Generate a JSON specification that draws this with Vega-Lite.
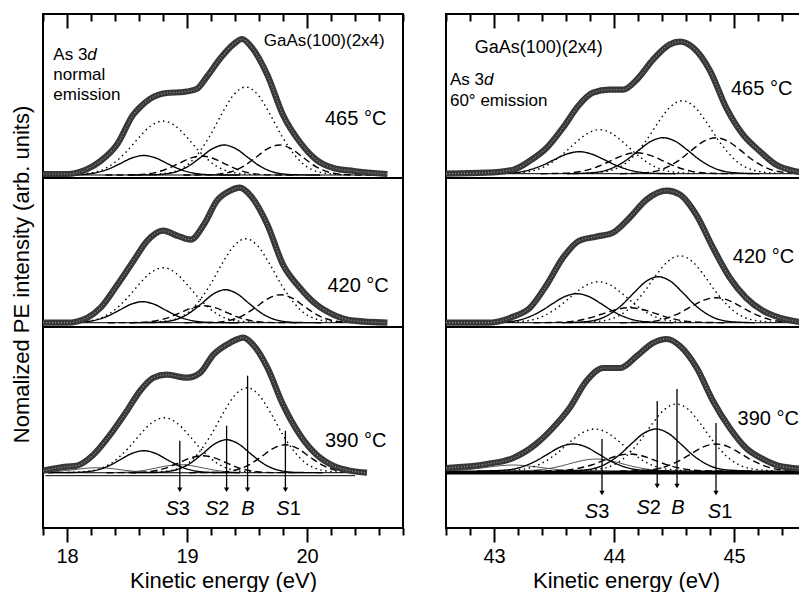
{
"$schema":"https://vega.github.io/schema/vega-lite/v6.json",
"background":"white",
"padding":{"left":8,"top":12,"right":0,"bottom":0},
"config":{"view":{"stroke":"black","strokeWidth":2},"font":"Liberation Sans","axis":{"labelFont":"Liberation Sans","titleFont":"Liberation Sans"},"text":{"font":"Liberation Sans"}},
"datasets":{
"cv":[
{"p":"L","t":465,"c":"tot","s":"tot","x":[17.8,18.0,18.17,18.28,18.42,18.55,18.61,18.69,18.83,18.97,19.08,19.17,19.28,19.39,19.46,19.53,19.67,19.8,19.94,20.08,20.22,20.39,20.67],"y":[0.01,0.01,0.06,0.14,0.31,0.6,0.68,0.76,0.82,0.83,0.86,0.99,1.17,1.31,1.36,1.29,1.0,0.6,0.33,0.15,0.07,0.04,0.01]},
{"p":"L","t":465,"c":"B5","s":"dot","x":[18.69,18.89,19.04,19.19,19.29,19.39,19.49,19.59,19.69,19.79,19.94,20.09,20.29],"y":[0.003,0.033,0.141,0.39,0.612,0.803,0.88,0.803,0.612,0.39,0.141,0.033,0.003]},
{"p":"L","t":465,"c":"B3","s":"dot","x":[18.0,18.2,18.35,18.5,18.6,18.7,18.8,18.9,19.0,19.1,19.25,19.4,19.6],"y":[0.002,0.021,0.086,0.239,0.376,0.493,0.54,0.493,0.376,0.239,0.086,0.021,0.002]},
{"p":"L","t":465,"c":"S2a","s":"sol","x":[18.51,18.71,18.86,19.01,19.11,19.21,19.31,19.41,19.51,19.61,19.76,19.91,20.11],"y":[0,0.002,0.018,0.087,0.173,0.261,0.3,0.261,0.173,0.087,0.018,0.002,0]},
{"p":"L","t":465,"c":"S2b","s":"sol","x":[17.84,18.04,18.19,18.34,18.44,18.54,18.64,18.74,18.84,18.94,19.09,19.24,19.44],"y":[0,0.001,0.012,0.057,0.112,0.17,0.195,0.17,0.112,0.057,0.012,0.001,0]},
{"p":"L","t":465,"c":"S1a","s":"dash","x":[18.97,19.17,19.32,19.47,19.57,19.67,19.77,19.87,19.97,20.07,20.22,20.37,20.57],"y":[0,0.002,0.018,0.087,0.173,0.261,0.3,0.261,0.173,0.087,0.018,0.002,0]},
{"p":"L","t":465,"c":"S1b","s":"dash","x":[18.32,18.52,18.67,18.82,18.92,19.02,19.12,19.22,19.32,19.42,19.57,19.72,19.92],"y":[0,0.001,0.011,0.055,0.109,0.165,0.19,0.165,0.109,0.055,0.011,0.001,0]},
{"p":"L","t":420,"c":"tot","s":"tot","x":[17.8,18.0,18.17,18.28,18.42,18.555,18.67,18.8,18.92,19.03,19.14,19.25,19.36,19.44,19.53,19.67,19.8,19.94,20.08,20.22,20.39,20.67],"y":[0,0,0.05,0.15,0.38,0.62,0.82,0.92,0.87,0.83,0.98,1.22,1.32,1.35,1.27,0.98,0.58,0.35,0.18,0.08,0.02,0]},
{"p":"L","t":420,"c":"B5","s":"dot","x":[18.69,18.89,19.04,19.19,19.29,19.39,19.49,19.59,19.69,19.79,19.94,20.09,20.29],"y":[0.003,0.032,0.134,0.372,0.585,0.767,0.84,0.767,0.585,0.372,0.134,0.032,0.003]},
{"p":"L","t":420,"c":"B3","s":"dot","x":[18.0,18.2,18.35,18.5,18.6,18.7,18.8,18.9,19.0,19.1,19.25,19.4,19.6],"y":[0.002,0.021,0.088,0.244,0.383,0.502,0.55,0.502,0.383,0.244,0.088,0.021,0.002]},
{"p":"L","t":420,"c":"S2a","s":"sol","x":[18.52,18.72,18.87,19.02,19.12,19.22,19.32,19.42,19.52,19.62,19.77,19.92,20.12],"y":[0,0.002,0.02,0.096,0.19,0.287,0.33,0.287,0.19,0.096,0.02,0.002,0]},
{"p":"L","t":420,"c":"S2b","s":"sol","x":[17.83,18.03,18.18,18.33,18.43,18.53,18.63,18.73,18.83,18.93,19.08,19.23,19.43],"y":[0,0.001,0.013,0.061,0.121,0.183,0.21,0.183,0.121,0.061,0.013,0.001,0]},
{"p":"L","t":420,"c":"S1a","s":"dash","x":[18.98,19.18,19.33,19.48,19.58,19.68,19.78,19.88,19.98,20.08,20.23,20.38,20.58],"y":[0,0.002,0.017,0.081,0.161,0.244,0.28,0.244,0.161,0.081,0.017,0.002,0]},
{"p":"L","t":420,"c":"S1b","s":"dash","x":[18.34,18.54,18.69,18.84,18.94,19.04,19.14,19.24,19.34,19.44,19.59,19.74,19.94],"y":[0,0.001,0.01,0.049,0.098,0.148,0.17,0.148,0.098,0.049,0.01,0.001,0]},
{"p":"L","t":390,"c":"tot","s":"tot","x":[17.8,18.0,18.08,18.22,18.36,18.5,18.61,18.72,18.83,19.0,19.11,19.22,19.36,19.47,19.55,19.67,19.8,19.94,20.08,20.22,20.36,20.5],"y":[0.02,0.06,0.07,0.18,0.38,0.62,0.82,0.95,0.98,0.95,1.0,1.18,1.3,1.35,1.28,1.05,0.68,0.38,0.18,0.07,0.02,0]},
{"p":"L","t":390,"c":"B5","s":"dot","x":[18.7,18.9,19.05,19.2,19.3,19.4,19.5,19.6,19.7,19.8,19.95,20.1,20.3],"y":[0.003,0.032,0.136,0.377,0.592,0.776,0.85,0.776,0.592,0.377,0.136,0.032,0.003]},
{"p":"L","t":390,"c":"B3","s":"dot","x":[18.01,18.21,18.36,18.51,18.61,18.71,18.81,18.91,19.01,19.11,19.26,19.41,19.61],"y":[0.002,0.021,0.088,0.244,0.383,0.502,0.55,0.502,0.383,0.244,0.088,0.021,0.002]},
{"p":"L","t":390,"c":"S2a","s":"sol","x":[18.53,18.73,18.88,19.03,19.13,19.23,19.33,19.43,19.53,19.63,19.78,19.93,20.13],"y":[0,0.002,0.02,0.096,0.19,0.287,0.33,0.287,0.19,0.096,0.02,0.002,0]},
{"p":"L","t":390,"c":"S2b","s":"sol","x":[17.84,18.04,18.19,18.34,18.44,18.54,18.64,18.74,18.84,18.94,19.09,19.24,19.44],"y":[0,0.002,0.013,0.064,0.127,0.192,0.22,0.192,0.127,0.064,0.013,0.002,0]},
{"p":"L","t":390,"c":"S1a","s":"dash","x":[19.02,19.22,19.37,19.52,19.62,19.72,19.82,19.92,20.02,20.12,20.27,20.42],"y":[0,0.002,0.017,0.081,0.161,0.244,0.28,0.244,0.161,0.081,0.017,0.002]},
{"p":"L","t":390,"c":"S1b","s":"dash","x":[18.33,18.53,18.68,18.83,18.93,19.03,19.13,19.23,19.33,19.43,19.58,19.73,19.93],"y":[0,0.001,0.01,0.049,0.098,0.148,0.17,0.148,0.098,0.049,0.01,0.001,0]},
{"p":"L","t":390,"c":"S3a","s":"thin","x":[18.14,18.34,18.49,18.64,18.74,18.84,18.94,19.04,19.14,19.24,19.39,19.54,19.74],"y":[0,0.001,0.005,0.023,0.046,0.07,0.08,0.07,0.046,0.023,0.005,0.001,0]},
{"p":"L","t":390,"c":"S3b","s":"thin","x":[17.8,17.95,18.05,18.15,18.25,18.35,18.45,18.55,18.7,18.85,19.05],"y":[0.003,0.015,0.029,0.044,0.05,0.044,0.029,0.015,0.003,0,0]},
{"p":"R","t":465,"c":"tot","s":"tot","x":[42.6,42.94,43.16,43.3,43.44,43.575,43.71,43.825,43.96,44.075,44.19,44.325,44.46,44.55,44.66,44.8,44.935,45.075,45.21,45.35,45.49,45.6],"y":[0,0.01,0.04,0.13,0.26,0.46,0.69,0.81,0.84,0.84,0.94,1.14,1.29,1.32,1.26,1.03,0.66,0.39,0.23,0.09,0.03,0.01]},
{"p":"R","t":465,"c":"B5","s":"dot","x":[43.77,43.97,44.12,44.27,44.37,44.47,44.57,44.67,44.77,44.87,45.02,45.17,45.37],"y":[0.003,0.032,0.126,0.334,0.516,0.669,0.73,0.669,0.516,0.334,0.126,0.032,0.003]},
{"p":"R","t":465,"c":"B3","s":"dot","x":[43.08,43.28,43.43,43.58,43.68,43.78,43.88,43.98,44.08,44.18,44.33,44.48,44.68],"y":[0.002,0.019,0.076,0.202,0.311,0.403,0.44,0.403,0.311,0.202,0.076,0.019,0.002]},
{"p":"R","t":465,"c":"S2a","s":"sol","x":[43.61,43.81,43.96,44.11,44.21,44.31,44.41,44.51,44.61,44.71,44.86,45.01,45.21],"y":[0,0.009,0.044,0.142,0.238,0.325,0.36,0.325,0.238,0.142,0.044,0.009,0]},
{"p":"R","t":465,"c":"S2b","s":"sol","x":[42.91,43.11,43.26,43.41,43.51,43.61,43.71,43.81,43.91,44.01,44.16,44.31,44.51],"y":[0,0.005,0.027,0.087,0.145,0.198,0.22,0.198,0.145,0.087,0.027,0.005,0]},
{"p":"R","t":465,"c":"S1a","s":"dash","x":[44.05,44.25,44.4,44.55,44.65,44.75,44.85,44.95,45.05,45.15,45.3,45.45,45.6],"y":[0,0.009,0.044,0.142,0.238,0.325,0.36,0.325,0.238,0.142,0.044,0.009,0.001]},
{"p":"R","t":465,"c":"S1b","s":"dash","x":[43.39,43.59,43.74,43.89,43.99,44.09,44.19,44.29,44.39,44.49,44.64,44.79,44.99],"y":[0,0.005,0.026,0.083,0.139,0.189,0.21,0.189,0.139,0.083,0.026,0.005,0]},
{"p":"R","t":420,"c":"tot","s":"tot","x":[42.6,42.94,43.16,43.3,43.44,43.575,43.71,43.85,43.99,44.13,44.27,44.44,44.55,44.69,44.825,44.965,45.1,45.24,45.38,45.6],"y":[0,0,0.06,0.15,0.38,0.65,0.82,0.86,0.9,1.05,1.23,1.32,1.28,1.07,0.75,0.45,0.25,0.12,0.05,0]},
{"p":"R","t":420,"c":"B5","s":"dot","x":[43.75,43.95,44.1,44.25,44.35,44.45,44.55,44.65,44.75,44.85,45.0,45.15,45.35],"y":[0.003,0.029,0.115,0.307,0.474,0.614,0.67,0.614,0.474,0.307,0.115,0.029,0.003]},
{"p":"R","t":420,"c":"B3","s":"dot","x":[43.07,43.27,43.42,43.57,43.67,43.77,43.87,43.97,44.07,44.17,44.32,44.47,44.67],"y":[0.002,0.018,0.071,0.188,0.29,0.376,0.41,0.376,0.29,0.188,0.071,0.018,0.002]},
{"p":"R","t":420,"c":"S2a","s":"sol","x":[43.57,43.77,43.92,44.07,44.17,44.27,44.37,44.47,44.57,44.67,44.82,44.97,45.17],"y":[0,0.011,0.057,0.182,0.304,0.415,0.46,0.415,0.304,0.182,0.057,0.011,0]},
{"p":"R","t":420,"c":"S2b","s":"sol","x":[42.89,43.09,43.24,43.39,43.49,43.59,43.69,43.79,43.89,43.99,44.14,44.29,44.49],"y":[0,0.007,0.036,0.115,0.192,0.262,0.29,0.262,0.192,0.115,0.036,0.007,0]},
{"p":"R","t":420,"c":"S1a","s":"dash","x":[44.05,44.25,44.4,44.55,44.65,44.75,44.85,44.95,45.05,45.15,45.3,45.45,45.6],"y":[0,0.006,0.031,0.099,0.165,0.226,0.25,0.226,0.165,0.099,0.031,0.006,0.001]},
{"p":"R","t":420,"c":"S1b","s":"dash","x":[43.33,43.53,43.68,43.83,43.93,44.03,44.13,44.23,44.33,44.43,44.58,44.73,44.93],"y":[0,0.004,0.018,0.059,0.099,0.135,0.15,0.135,0.099,0.059,0.018,0.004,0]},
{"p":"R","t":390,"c":"tot","s":"tot","x":[42.6,42.94,43.16,43.35,43.49,43.63,43.77,43.91,44.05,44.19,44.325,44.44,44.55,44.69,44.825,44.965,45.1,45.24,45.38,45.6],"y":[0.03,0.07,0.13,0.27,0.43,0.63,0.9,1.03,1.03,1.15,1.28,1.32,1.25,1.03,0.7,0.43,0.23,0.12,0.05,0.02]},
{"p":"R","t":390,"c":"B5","s":"dot","x":[43.72,43.92,44.07,44.22,44.32,44.42,44.52,44.62,44.72,44.82,44.97,45.12,45.32],"y":[0.003,0.029,0.115,0.307,0.474,0.614,0.67,0.614,0.474,0.307,0.115,0.029,0.003]},
{"p":"R","t":390,"c":"B3","s":"dot","x":[43.04,43.24,43.39,43.54,43.64,43.74,43.84,43.94,44.04,44.14,44.29,44.44,44.64],"y":[0.002,0.018,0.072,0.192,0.297,0.385,0.42,0.385,0.297,0.192,0.072,0.018,0.002]},
{"p":"R","t":390,"c":"S2a","s":"sol","x":[43.55,43.75,43.9,44.05,44.15,44.25,44.35,44.45,44.55,44.65,44.8,44.95,45.15],"y":[0,0.01,0.052,0.166,0.278,0.379,0.42,0.379,0.278,0.166,0.052,0.01,0]},
{"p":"R","t":390,"c":"S2b","s":"sol","x":[42.86,43.06,43.21,43.36,43.46,43.56,43.66,43.76,43.86,43.96,44.11,44.26,44.46],"y":[0,0.006,0.033,0.107,0.178,0.244,0.27,0.244,0.178,0.107,0.033,0.006,0]},
{"p":"R","t":390,"c":"S1a","s":"dash","x":[44.05,44.25,44.4,44.55,44.65,44.75,44.85,44.95,45.05,45.15,45.3,45.45,45.6],"y":[0,0.006,0.033,0.107,0.178,0.244,0.27,0.244,0.178,0.107,0.033,0.006,0.001]},
{"p":"R","t":390,"c":"S1b","s":"dash","x":[43.33,43.53,43.68,43.83,43.93,44.03,44.13,44.23,44.33,44.43,44.58,44.73,44.93],"y":[0,0.004,0.021,0.067,0.112,0.153,0.17,0.153,0.112,0.067,0.021,0.004,0]},
{"p":"R","t":390,"c":"S3a","s":"thin","x":[43.05,43.25,43.4,43.55,43.65,43.75,43.85,43.95,44.05,44.15,44.3,44.45,44.65],"y":[0,0.003,0.015,0.047,0.079,0.108,0.12,0.108,0.079,0.047,0.015,0.003,0]},
{"p":"R","t":390,"c":"S3b","s":"thin","x":[42.6,42.71,42.86,42.96,43.06,43.16,43.26,43.36,43.46,43.61,43.76,43.96],"y":[0.002,0.007,0.024,0.04,0.054,0.06,0.054,0.04,0.024,0.007,0.001,0]}
],
"bl":[
{"p":"L","t":465,"k":"b","x":17.82,"x2":20.67,"y":0},
{"p":"L","t":420,"k":"b","x":17.82,"x2":20.67,"y":0},
{"p":"L","t":390,"k":"b","x":17.82,"x2":20.4,"y":0},
{"p":"L","t":390,"k":"b","x":17.82,"x2":20.4,"y":-0.03},
{"p":"R","t":465,"k":"b","x":42.6,"x2":45.6,"y":0},
{"p":"R","t":420,"k":"b","x":42.6,"x2":45.6,"y":0},
{"p":"R","t":390,"k":"B","x":42.6,"x2":45.6,"y":-0.015}
],
"ar":[
{"p":"L","x":18.94,"y":0.32,"y2":-0.17},
{"p":"L","x":19.33,"y":0.47,"y2":-0.17},
{"p":"L","x":19.505,"y":0.97,"y2":-0.17},
{"p":"L","x":19.82,"y":0.42,"y2":-0.17},
{"p":"R","x":43.9,"y":0.32,"y2":-0.22},
{"p":"R","x":44.36,"y":0.7,"y2":-0.15},
{"p":"R","x":44.525,"y":0.82,"y2":-0.15},
{"p":"R","x":44.85,"y":0.48,"y2":-0.22}
],
"lb":[
{"p":"L","lab":"S","n":"3","x":18.923,"y":-0.365},
{"p":"L","lab":"S","n":"2","x":19.252,"y":-0.365},
{"p":"L","lab":"B","n":"","x":19.508,"y":-0.365},
{"p":"L","lab":"S","n":"1","x":19.847,"y":-0.365},
{"p":"R","lab":"S","n":"3","x":43.86,"y":-0.41},
{"p":"R","lab":"S","n":"2","x":44.29,"y":-0.37},
{"p":"R","lab":"B","n":"","x":44.533,"y":-0.37},
{"p":"R","lab":"S","n":"1","x":44.885,"y":-0.41}
],
"tx":[
{"p":"L","t":465,"k":"temp","txt":"465 °C","x":20.15,"y":0.56},
{"p":"L","t":420,"k":"temp","txt":"420 °C","x":20.17,"y":0.37},
{"p":"L","t":390,"k":"temp","txt":"390 °C","x":20.15,"y":0.32},
{"p":"R","t":465,"k":"temp","txt":"465 °C","x":44.975,"y":0.85},
{"p":"R","t":420,"k":"temp","txt":"420 °C","x":44.99,"y":0.66},
{"p":"R","t":390,"k":"temp","txt":"390 °C","x":45.03,"y":0.525},
{"p":"L","t":465,"k":"gaas","txt":"GaAs(100)(2x4)","x":19.64,"y":1.34},
{"p":"R","t":465,"k":"gaas","txt":"GaAs(100)(2x4)","x":42.84,"y":1.26},
{"p":"L","t":465,"k":"as","txt":"As 3","x":17.886,"y":1.2},
{"p":"L","t":465,"k":"ann","txt":"normal","x":17.886,"y":1.0},
{"p":"L","t":465,"k":"ann","txt":"emission","x":17.886,"y":0.8},
{"p":"R","t":465,"k":"as","txt":"As 3","x":42.633,"y":0.94},
{"p":"R","t":465,"k":"ann","txt":"60° emission","x":42.633,"y":0.73}
]
},
"hconcat":[
{"vconcat":[
{"width":360,"height":164,
"encoding":{"x":{"field":"x","type":"quantitative","scale":{"domain":[17.8,20.8],"nice":false,"zero":false},"axis":{"orient":"top","values":[17.8,18,18.2,18.4,18.6,18.8,19,19.2,19.4,19.6,19.8,20,20.2,20.4,20.6,20.8],"labels":false,"title":null,"domain":false,"grid":false,"tickColor":"black","tickWidth":2,"tickSize":{"condition":{"test":"abs(datum.value-round(datum.value))<0.01","value":-14},"value":-7}}},
"y":{"field":"y","type":"quantitative","scale":{"domain":[-0.03,1.61],"nice":false,"zero":false},"axis":null}},
"layer":[
{"data":{"name":"bl"},"transform":[{"filter":"datum.p=='L' && datum.t==465"}],"mark":{"type":"rule","color":"black","strokeWidth":1},"encoding":{"x2":{"field":"x2"}}},
{"data":{"name":"cv"},"transform":[{"filter":"datum.p=='L' && datum.t==465 && datum.s!='tot' && datum.s!='thin'"},{"flatten":["x","y"]}],"mark":{"type":"line","interpolate":"monotone","color":"black","strokeWidth":1.4,"clip":true},"encoding":{"detail":{"field":"c"},"strokeDash":{"field":"s","type":"nominal","scale":{"domain":["dot","sol","dash"],"range":[[1.5,3.5],[1,0],[7,4]]},"legend":null}}},
{"data":{"name":"cv"},"transform":[{"filter":"datum.p=='L' && datum.t==465 && datum.s=='tot'"},{"flatten":["x","y"]}],"mark":{"type":"line","interpolate":"monotone","color":"#383838","strokeWidth":6.2,"clip":true}},
{"data":{"name":"cv"},"transform":[{"filter":"datum.p=='L' && datum.t==465 && datum.s=='tot'"},{"flatten":["x","y"]}],"mark":{"type":"line","interpolate":"monotone","color":"#959595","strokeWidth":1.2,"strokeDash":[1,2],"clip":true}},
{"data":{"name":"tx"},"transform":[{"filter":"datum.p=='L' && datum.t==465 && datum.k=='temp'"}],"mark":{"type":"text","align":"left","baseline":"middle","fontSize":20,"color":"black"},"encoding":{"text":{"field":"txt"}}},
{"data":{"name":"tx"},"transform":[{"filter":"datum.p=='L' && datum.k=='gaas'"}],"mark":{"type":"text","align":"left","baseline":"middle","fontSize":17,"color":"black"},"encoding":{"text":{"field":"txt"}}},
{"data":{"name":"tx"},"transform":[{"filter":"datum.p=='L' && (datum.k=='as' || datum.k=='ann')"}],"mark":{"type":"text","align":"left","baseline":"middle","fontSize":17,"color":"black"},"encoding":{"text":{"field":"txt"}}},
{"data":{"name":"tx"},"transform":[{"filter":"datum.p=='L' && datum.k=='as'"}],"mark":{"type":"text","align":"left","baseline":"middle","fontSize":17,"fontStyle":"italic","color":"black","dx":34,"text":"d"}}
]},
{"width":360,"height":149,
"encoding":{"x":{"field":"x","type":"quantitative","scale":{"domain":[17.8,20.8],"nice":false,"zero":false},"axis":null},
"y":{"field":"y","type":"quantitative","scale":{"domain":[-0.043,1.447],"nice":false,"zero":false},"axis":{"title":"Nomalized PE intensity (arb. units)","labels":false,"ticks":false,"domain":false,"grid":false,"titleFontSize":22,"titleFontWeight":"normal","titleColor":"black","titlePadding":10,"titleY":96}}},
"layer":[
{"data":{"name":"bl"},"transform":[{"filter":"datum.p=='L' && datum.t==420"}],"mark":{"type":"rule","color":"black","strokeWidth":1},"encoding":{"x2":{"field":"x2"}}},
{"data":{"name":"cv"},"transform":[{"filter":"datum.p=='L' && datum.t==420 && datum.s!='tot' && datum.s!='thin'"},{"flatten":["x","y"]}],"mark":{"type":"line","interpolate":"monotone","color":"black","strokeWidth":1.4,"clip":true},"encoding":{"detail":{"field":"c"},"strokeDash":{"field":"s","type":"nominal","scale":{"domain":["dot","sol","dash"],"range":[[1.5,3.5],[1,0],[7,4]]},"legend":null}}},
{"data":{"name":"cv"},"transform":[{"filter":"datum.p=='L' && datum.t==420 && datum.s=='tot'"},{"flatten":["x","y"]}],"mark":{"type":"line","interpolate":"monotone","color":"#383838","strokeWidth":6.2,"clip":true}},
{"data":{"name":"cv"},"transform":[{"filter":"datum.p=='L' && datum.t==420 && datum.s=='tot'"},{"flatten":["x","y"]}],"mark":{"type":"line","interpolate":"monotone","color":"#959595","strokeWidth":1.2,"strokeDash":[1,2],"clip":true}},
{"data":{"name":"tx"},"transform":[{"filter":"datum.p=='L' && datum.t==420 && datum.k=='temp'"}],"mark":{"type":"text","align":"left","baseline":"middle","fontSize":20,"color":"black"},"encoding":{"text":{"field":"txt"}}}
]},
{"width":360,"height":201,
"encoding":{"x":{"field":"x","type":"quantitative","scale":{"domain":[17.8,20.8],"nice":false,"zero":false},"axis":{"orient":"bottom","values":[17.8,18,18.2,18.4,18.6,18.8,19,19.2,19.4,19.6,19.8,20,20.2,20.4,20.6,20.8],"domain":false,"grid":false,"tickColor":"black","tickWidth":2,"tickSize":{"condition":{"test":"abs(datum.value-round(datum.value))<0.01","value":14},"value":7},"labelExpr":"abs(datum.value-round(datum.value))<0.01 ? format(datum.value,'d') : ''","labelFontSize":20,"labelColor":"black","labelPadding":4,"labelOverlap":false,"labelFlush":false,"labelBound":false,"title":"Kinetic energy (eV)","titleFontSize":22,"titleFontWeight":"normal","titleColor":"black","titlePadding":4}},
"y":{"field":"y","type":"quantitative","scale":{"domain":[-0.553,1.457],"nice":false,"zero":false},"axis":null}},
"layer":[
{"data":{"name":"bl"},"transform":[{"filter":"datum.p=='L' && datum.t==390"}],"mark":{"type":"rule","color":"black","strokeWidth":1},"encoding":{"x2":{"field":"x2"}}},
{"data":{"name":"cv"},"transform":[{"filter":"datum.p=='L' && datum.t==390 && datum.s=='thin'"},{"flatten":["x","y"]}],"mark":{"type":"line","interpolate":"monotone","color":"#444444","strokeWidth":0.9,"clip":true},"encoding":{"detail":{"field":"c"}}},
{"data":{"name":"cv"},"transform":[{"filter":"datum.p=='L' && datum.t==390 && datum.s!='tot' && datum.s!='thin'"},{"flatten":["x","y"]}],"mark":{"type":"line","interpolate":"monotone","color":"black","strokeWidth":1.4,"clip":true},"encoding":{"detail":{"field":"c"},"strokeDash":{"field":"s","type":"nominal","scale":{"domain":["dot","sol","dash"],"range":[[1.5,3.5],[1,0],[7,4]]},"legend":null}}},
{"data":{"name":"cv"},"transform":[{"filter":"datum.p=='L' && datum.t==390 && datum.s=='tot'"},{"flatten":["x","y"]}],"mark":{"type":"line","interpolate":"monotone","color":"#383838","strokeWidth":6.2,"clip":true}},
{"data":{"name":"cv"},"transform":[{"filter":"datum.p=='L' && datum.t==390 && datum.s=='tot'"},{"flatten":["x","y"]}],"mark":{"type":"line","interpolate":"monotone","color":"#959595","strokeWidth":1.2,"strokeDash":[1,2],"clip":true}},
{"data":{"name":"ar"},"transform":[{"filter":"datum.p=='L'"}],"mark":{"type":"rule","color":"black","strokeWidth":1.3},"encoding":{"y2":{"field":"y2"}}},
{"data":{"name":"ar"},"transform":[{"filter":"datum.p=='L'"}],"mark":{"type":"point","shape":"triangle-down","filled":true,"color":"black","opacity":1,"size":28},"encoding":{"y":{"field":"y2","type":"quantitative","axis":null}}},
{"data":{"name":"lb"},"transform":[{"filter":"datum.p=='L' && datum.lab=='S'"}],"mark":{"type":"text","align":"right","baseline":"middle","fontSize":20,"fontStyle":"italic","color":"black","dx":1,"text":"S"}},
{"data":{"name":"lb"},"transform":[{"filter":"datum.p=='L' && datum.lab=='S'"}],"mark":{"type":"text","align":"left","baseline":"middle","fontSize":20,"color":"black","dx":1},"encoding":{"text":{"field":"n"}}},
{"data":{"name":"lb"},"transform":[{"filter":"datum.p=='L' && datum.lab=='B'"}],"mark":{"type":"text","align":"center","baseline":"middle","fontSize":20,"fontStyle":"italic","color":"black","text":"B"}},
{"data":{"name":"tx"},"transform":[{"filter":"datum.p=='L' && datum.t==390 && datum.k=='temp'"}],"mark":{"type":"text","align":"left","baseline":"middle","fontSize":20,"color":"black"},"encoding":{"text":{"field":"txt"}}}
]}
],"spacing":0,"bounds":"flush"},
{"vconcat":[
{"width":360,"height":164,
"encoding":{"x":{"field":"x","type":"quantitative","scale":{"domain":[42.6,45.6],"nice":false,"zero":false},"axis":{"orient":"top","values":[42.6,42.8,43,43.2,43.4,43.6,43.8,44,44.2,44.4,44.6,44.8,45,45.2,45.4,45.6],"labels":false,"title":null,"domain":false,"grid":false,"tickColor":"black","tickWidth":2,"tickSize":{"condition":{"test":"abs(datum.value-round(datum.value))<0.01","value":-14},"value":-7}}},
"y":{"field":"y","type":"quantitative","scale":{"domain":[-0.043,1.597],"nice":false,"zero":false},"axis":null}},
"layer":[
{"data":{"name":"bl"},"transform":[{"filter":"datum.p=='R' && datum.t==465"}],"mark":{"type":"rule","color":"black","strokeWidth":1},"encoding":{"x2":{"field":"x2"}}},
{"data":{"name":"cv"},"transform":[{"filter":"datum.p=='R' && datum.t==465 && datum.s!='tot' && datum.s!='thin'"},{"flatten":["x","y"]}],"mark":{"type":"line","interpolate":"monotone","color":"black","strokeWidth":1.4,"clip":true},"encoding":{"detail":{"field":"c"},"strokeDash":{"field":"s","type":"nominal","scale":{"domain":["dot","sol","dash"],"range":[[1.5,3.5],[1,0],[7,4]]},"legend":null}}},
{"data":{"name":"cv"},"transform":[{"filter":"datum.p=='R' && datum.t==465 && datum.s=='tot'"},{"flatten":["x","y"]}],"mark":{"type":"line","interpolate":"monotone","color":"#383838","strokeWidth":6.2,"clip":true}},
{"data":{"name":"cv"},"transform":[{"filter":"datum.p=='R' && datum.t==465 && datum.s=='tot'"},{"flatten":["x","y"]}],"mark":{"type":"line","interpolate":"monotone","color":"#959595","strokeWidth":1.2,"strokeDash":[1,2],"clip":true}},
{"data":{"name":"tx"},"transform":[{"filter":"datum.p=='R' && datum.t==465 && datum.k=='temp'"}],"mark":{"type":"text","align":"left","baseline":"middle","fontSize":20,"color":"black"},"encoding":{"text":{"field":"txt"}}},
{"data":{"name":"tx"},"transform":[{"filter":"datum.p=='R' && datum.k=='gaas'"}],"mark":{"type":"text","align":"left","baseline":"middle","fontSize":18,"color":"black"},"encoding":{"text":{"field":"txt"}}},
{"data":{"name":"tx"},"transform":[{"filter":"datum.p=='R' && (datum.k=='as' || datum.k=='ann')"}],"mark":{"type":"text","align":"left","baseline":"middle","fontSize":17,"color":"black"},"encoding":{"text":{"field":"txt"}}},
{"data":{"name":"tx"},"transform":[{"filter":"datum.p=='R' && datum.k=='as'"}],"mark":{"type":"text","align":"left","baseline":"middle","fontSize":17,"fontStyle":"italic","color":"black","dx":34,"text":"d"}}
]},
{"width":360,"height":149,
"encoding":{"x":{"field":"x","type":"quantitative","scale":{"domain":[42.6,45.6],"nice":false,"zero":false},"axis":null},
"y":{"field":"y","type":"quantitative","scale":{"domain":[-0.043,1.447],"nice":false,"zero":false},"axis":null}},
"layer":[
{"data":{"name":"bl"},"transform":[{"filter":"datum.p=='R' && datum.t==420"}],"mark":{"type":"rule","color":"black","strokeWidth":1},"encoding":{"x2":{"field":"x2"}}},
{"data":{"name":"cv"},"transform":[{"filter":"datum.p=='R' && datum.t==420 && datum.s!='tot' && datum.s!='thin'"},{"flatten":["x","y"]}],"mark":{"type":"line","interpolate":"monotone","color":"black","strokeWidth":1.4,"clip":true},"encoding":{"detail":{"field":"c"},"strokeDash":{"field":"s","type":"nominal","scale":{"domain":["dot","sol","dash"],"range":[[1.5,3.5],[1,0],[7,4]]},"legend":null}}},
{"data":{"name":"cv"},"transform":[{"filter":"datum.p=='R' && datum.t==420 && datum.s=='tot'"},{"flatten":["x","y"]}],"mark":{"type":"line","interpolate":"monotone","color":"#383838","strokeWidth":6.2,"clip":true}},
{"data":{"name":"cv"},"transform":[{"filter":"datum.p=='R' && datum.t==420 && datum.s=='tot'"},{"flatten":["x","y"]}],"mark":{"type":"line","interpolate":"monotone","color":"#959595","strokeWidth":1.2,"strokeDash":[1,2],"clip":true}},
{"data":{"name":"tx"},"transform":[{"filter":"datum.p=='R' && datum.t==420 && datum.k=='temp'"}],"mark":{"type":"text","align":"left","baseline":"middle","fontSize":20,"color":"black"},"encoding":{"text":{"field":"txt"}}}
]},
{"width":360,"height":201,
"encoding":{"x":{"field":"x","type":"quantitative","scale":{"domain":[42.6,45.6],"nice":false,"zero":false},"axis":{"orient":"bottom","values":[42.6,42.8,43,43.2,43.4,43.6,43.8,44,44.2,44.4,44.6,44.8,45,45.2,45.4,45.6],"domain":false,"grid":false,"tickColor":"black","tickWidth":2,"tickSize":{"condition":{"test":"abs(datum.value-round(datum.value))<0.01","value":14},"value":7},"labelExpr":"abs(datum.value-round(datum.value))<0.01 ? format(datum.value,'d') : ''","labelFontSize":20,"labelColor":"black","labelPadding":4,"labelOverlap":false,"labelFlush":false,"labelBound":false,"title":"Kinetic energy (eV)","titleFontSize":22,"titleFontWeight":"normal","titleColor":"black","titlePadding":4}},
"y":{"field":"y","type":"quantitative","scale":{"domain":[-0.57,1.44],"nice":false,"zero":false},"axis":null}},
"layer":[
{"data":{"name":"bl"},"transform":[{"filter":"datum.p=='R' && datum.t==390"}],"mark":{"type":"rule","color":"black","strokeWidth":4},"encoding":{"x2":{"field":"x2"}}},
{"data":{"name":"cv"},"transform":[{"filter":"datum.p=='R' && datum.t==390 && datum.s=='thin'"},{"flatten":["x","y"]}],"mark":{"type":"line","interpolate":"monotone","color":"#444444","strokeWidth":0.9,"clip":true},"encoding":{"detail":{"field":"c"}}},
{"data":{"name":"cv"},"transform":[{"filter":"datum.p=='R' && datum.t==390 && datum.s!='tot' && datum.s!='thin'"},{"flatten":["x","y"]}],"mark":{"type":"line","interpolate":"monotone","color":"black","strokeWidth":1.4,"clip":true},"encoding":{"detail":{"field":"c"},"strokeDash":{"field":"s","type":"nominal","scale":{"domain":["dot","sol","dash"],"range":[[1.5,3.5],[1,0],[7,4]]},"legend":null}}},
{"data":{"name":"cv"},"transform":[{"filter":"datum.p=='R' && datum.t==390 && datum.s=='tot'"},{"flatten":["x","y"]}],"mark":{"type":"line","interpolate":"monotone","color":"#383838","strokeWidth":6.2,"clip":true}},
{"data":{"name":"cv"},"transform":[{"filter":"datum.p=='R' && datum.t==390 && datum.s=='tot'"},{"flatten":["x","y"]}],"mark":{"type":"line","interpolate":"monotone","color":"#959595","strokeWidth":1.2,"strokeDash":[1,2],"clip":true}},
{"data":{"name":"ar"},"transform":[{"filter":"datum.p=='R'"}],"mark":{"type":"rule","color":"black","strokeWidth":1.3},"encoding":{"y2":{"field":"y2"}}},
{"data":{"name":"ar"},"transform":[{"filter":"datum.p=='R'"}],"mark":{"type":"point","shape":"triangle-down","filled":true,"color":"black","opacity":1,"size":28},"encoding":{"y":{"field":"y2","type":"quantitative","axis":null}}},
{"data":{"name":"lb"},"transform":[{"filter":"datum.p=='R' && datum.lab=='S'"}],"mark":{"type":"text","align":"right","baseline":"middle","fontSize":20,"fontStyle":"italic","color":"black","dx":1,"text":"S"}},
{"data":{"name":"lb"},"transform":[{"filter":"datum.p=='R' && datum.lab=='S'"}],"mark":{"type":"text","align":"left","baseline":"middle","fontSize":20,"color":"black","dx":1},"encoding":{"text":{"field":"n"}}},
{"data":{"name":"lb"},"transform":[{"filter":"datum.p=='R' && datum.lab=='B'"}],"mark":{"type":"text","align":"center","baseline":"middle","fontSize":20,"fontStyle":"italic","color":"black","text":"B"}},
{"data":{"name":"tx"},"transform":[{"filter":"datum.p=='R' && datum.t==390 && datum.k=='temp'"}],"mark":{"type":"text","align":"left","baseline":"middle","fontSize":20,"color":"black"},"encoding":{"text":{"field":"txt"}}}
]}
],"spacing":0,"bounds":"flush"}
],
"spacing":38
}
